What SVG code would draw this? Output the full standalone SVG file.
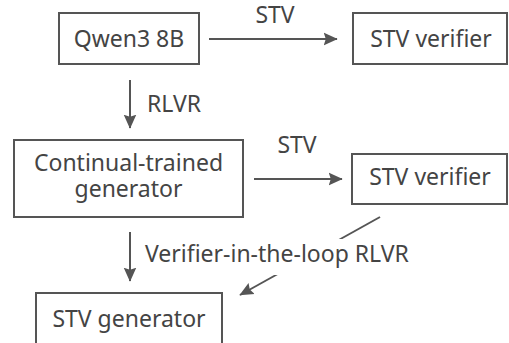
<svg xmlns="http://www.w3.org/2000/svg" width="509" height="343" viewBox="0 0 509 343">
<style>
.box{fill:#fff;stroke:#555;stroke-width:2}
.t{font-family:"Noto Sans",Lato,sans-serif;font-size:23px;fill:#444;font-variant-ligatures:none}
.c{text-anchor:middle}
.ln{stroke:#555;stroke-width:2;fill:none}
</style>
<defs>
<marker id="ah" viewBox="0 0 10 10" refX="9.5" refY="5" markerWidth="7" markerHeight="7" markerUnits="strokeWidth" orient="auto">
<path d="M0,0.5 L10,5 L0,9.5 L1.5,5 z" fill="#555"/>
</marker>
</defs>
<rect width="509" height="343" fill="#fff"/>
<g id="connectors">
<line class="ln" x1="209" y1="39" x2="337" y2="39" marker-end="url(#ah)"/>
<text class="t c" x="275" y="23">STV</text>
<line class="ln" x1="130" y1="80" x2="130" y2="128" marker-end="url(#ah)"/>
<text class="t" x="147" y="112">RLVR</text>
<line class="ln" x1="254" y1="179" x2="342" y2="179" marker-end="url(#ah)"/>
<text class="t c" x="297" y="153">STV</text>
<line class="ln" x1="130" y1="232" x2="130" y2="281" marker-end="url(#ah)"/>
<line class="ln" x1="380" y1="217" x2="240" y2="295" marker-end="url(#ah)"/>
<rect x="143" y="239" width="268" height="36" fill="#fff"/>
<text class="t" x="145" y="262">Verifier-in-the-loop RLVR</text>
</g>
<g id="qwen">
<rect class="box" x="59" y="13" width="140" height="51"/>
<text class="t c" x="129" y="47">Qwen3 8B</text>
</g>
<g id="verifier1">
<rect class="box" x="353" y="13" width="154" height="51"/>
<text class="t c" x="431" y="47">STV verifier</text>
</g>
<g id="continual">
<rect class="box" x="14" y="140" width="229" height="77"/>
<text class="t c" x="128.5" y="171">Continual-trained</text>
<text class="t c" x="128.5" y="197">generator</text>
</g>
<g id="verifier2">
<rect class="box" x="352" y="154" width="155" height="50"/>
<text class="t c" x="430" y="185">STV verifier</text>
</g>
<g id="generator">
<rect class="box" x="36" y="293" width="186" height="60"/>
<text class="t c" x="129" y="327">STV generator</text>
</g>
</svg>
